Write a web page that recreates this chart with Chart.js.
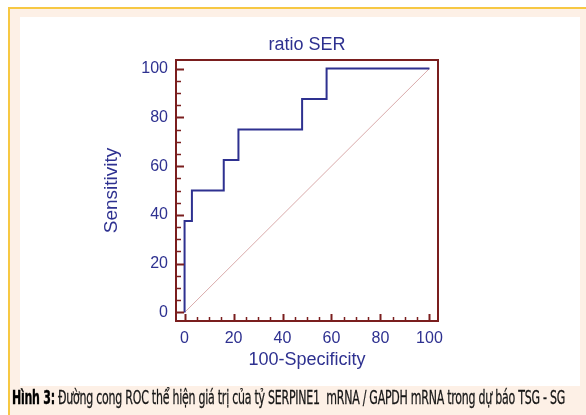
<!DOCTYPE html>
<html>
<head>
<meta charset="utf-8">
<script src="https://cdn.jsdelivr.net/npm/chart.js@4.4.1/dist/chart.umd.min.js"></script>
<style>
  html, body { margin: 0; padding: 0; background: #ffffff; width: 586px; height: 415px; overflow: hidden; }
  #frame { position: absolute; left: 8px; top: 7px; width: 590px; height: 420px;
           background: #fdf0e6; border-left: 2px solid #f7c843; border-top: 2px solid #f7c843; }
  #panel { position: absolute; left: 20px; top: 17px; width: 560px; height: 369px; background: #ffffff; }
  #chart { position: absolute; left: 0; top: 0; }
  #caption { position: absolute; left: 12px; top: 386px; white-space: nowrap;
             font-family: "Liberation Sans Narrow", "DejaVu Sans Condensed", "Liberation Sans", sans-serif;
             font-size: 20px; line-height: 23px; color: #161616; transform-origin: left top; letter-spacing: -0.4px;
             -webkit-text-stroke: 0.3px #161616; }
  #caption b { color: #000; -webkit-text-stroke: 0.4px #000; }
</style>
</head>
<body>
<div id="frame"></div>
<div id="panel"></div>
<canvas id="chart" width="586" height="415"></canvas>
<div id="caption"><b>Hình 3:</b> Đường cong ROC thể hiện giá trị của tỷ SERPINE1&nbsp; mRNA / GAPDH mRNA trong dự báo TSG - SG</div>
<script>
// ---- data ----
const specificity100 = [0, 0, 3, 16, 22, 48, 58, 100];      // 100-Specificity (x)
const sensitivity   = [0, 37.5, 50, 62.5, 75, 87.5, 100, 100]; // Sensitivity (y)
const diagX = [0, 100];
const diagY = [0, 100];
const tickValues = [0, 20, 40, 60, 80, 100];
const minorStep = 5;
const chartTitle = "ratio SER";
const xTitle = "100-Specificity";
const yTitle = "Sensitivity";

const navy = "#2e3190";
const maroon = "#7a1e1e";

const framePlugin = {
  id: "framePlugin",
  afterDatasetsDraw(chart) {
    const { ctx, chartArea: a, scales } = chart;
    const xs = scales.x, ys = scales.y;
    ctx.save();
    ctx.strokeStyle = maroon;
    // inward ticks
    for (let v = 0; v <= 100; v += minorStep) {
      const major = v % 20 === 0;
      ctx.lineWidth = major ? 2 : 1.5;
      const px = Math.round(xs.getPixelForValue(v)) + 0.5;
      ctx.beginPath();
      ctx.moveTo(px, a.bottom);
      ctx.lineTo(px, a.bottom - (major ? 7 : 4));
      ctx.stroke();
      const py = Math.round(ys.getPixelForValue(v)) + 0.5;
      ctx.beginPath();
      ctx.moveTo(a.left, py);
      ctx.lineTo(a.left + (major ? 8 : 5), py);
      ctx.stroke();
    }
    ctx.lineWidth = 2;
    ctx.strokeRect(a.left, a.top, a.right - a.left, a.bottom - a.top);
    ctx.restore();
  }
};

new Chart(document.getElementById("chart"), {
  type: "scatter",
  data: {
    datasets: [
      {
        data: specificity100.map((x, i) => ({ x, y: sensitivity[i] })),
        showLine: true,
        stepped: "before",
        borderColor: navy,
        borderWidth: 2,
        pointRadius: 0,
        fill: false,
        order: 0
      },
      {
        data: diagX.map((x, i) => ({ x, y: diagY[i] })),
        showLine: true,
        borderColor: "#d9aaaa",
        borderWidth: 1,
        pointRadius: 0,
        fill: false,
        order: 1
      }
    ]
  },
  options: {
    responsive: false,
    animation: false,
    devicePixelRatio: 1,
    layout: { padding: { left: 95, right: 148, top: 0, bottom: 34 } },
    plugins: {
      legend: { display: false },
      tooltip: { enabled: false },
      title: {
        display: true,
        text: chartTitle,
        fullSize: false,
        color: navy,
        font: { family: "'Liberation Sans', Arial, sans-serif", size: 18, weight: "normal", lineHeight: 1.2 },
        padding: { top: 34, bottom: 4.4 }
      }
    },
    scales: {
      x: {
        type: "linear",
        min: -3.5, max: 103.5,
        afterBuildTicks: (s) => { s.ticks = tickValues.map(v => ({ value: v })); },
        afterFit: (s) => { s.height = 60; },
        grid: { display: false, drawTicks: false },
        border: { display: false },
        ticks: { color: navy, padding: 8, maxRotation: 0, autoSkip: false,
                 font: { family: "'Liberation Sans', Arial, sans-serif", size: 16 } },
        title: { display: true, text: xTitle, color: navy, padding: { top: 0, bottom: 10 },
                 font: { family: "'Liberation Sans', Arial, sans-serif", size: 18, lineHeight: 1.2 } }
      },
      y: {
        type: "linear",
        min: -3.5, max: 103.5,
        afterBuildTicks: (s) => { s.ticks = tickValues.map(v => ({ value: v })); },
        afterFit: (s) => { s.width = 81; },
        grid: { display: false, drawTicks: false },
        border: { display: false },
        ticks: { color: navy, padding: 8, autoSkip: false,
                 font: { family: "'Liberation Sans', Arial, sans-serif", size: 16 } },
        title: { display: true, text: yTitle, color: navy, padding: { top: 5, bottom: 0 },
                 font: { family: "'Liberation Sans', Arial, sans-serif", size: 19, lineHeight: 1.2 } }
      }
    }
  },
  plugins: [framePlugin]
});

// fit caption to reference width
const cap = document.getElementById("caption");
const w = cap.getBoundingClientRect().width;
cap.style.transform = "scaleX(" + (553 / w) + ")";
</script>
</body>
</html>
